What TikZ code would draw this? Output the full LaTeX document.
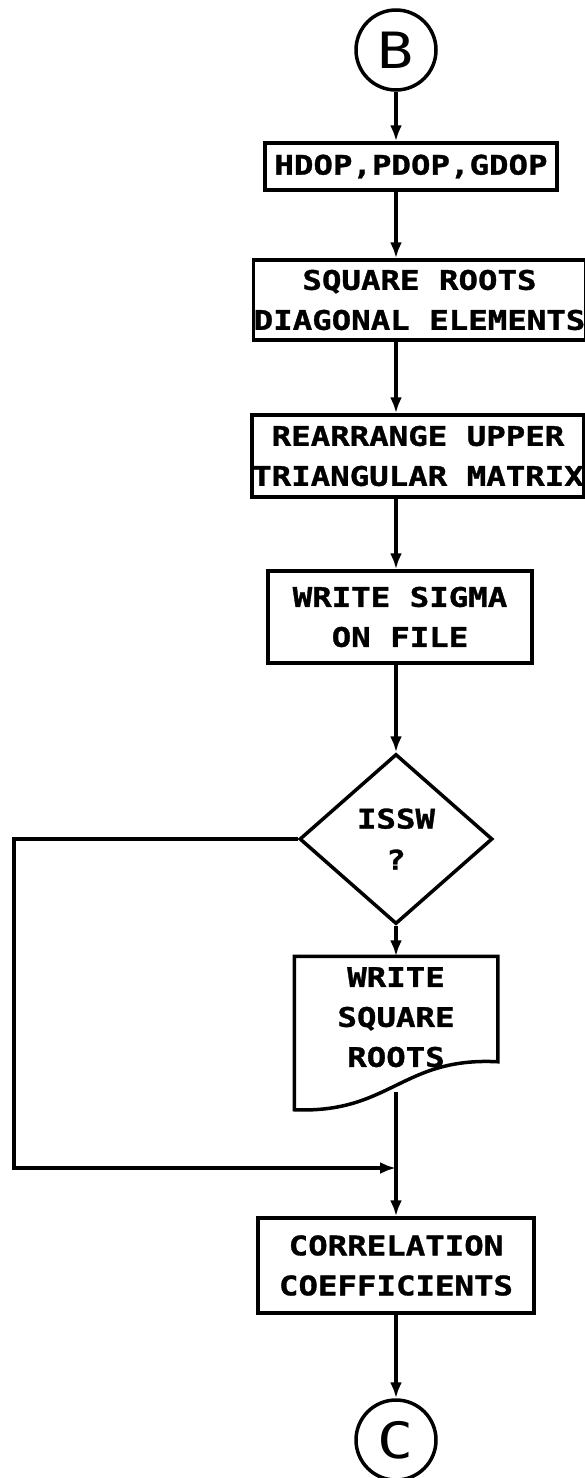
\documentclass[tikz,border=0pt]{standalone}
\usepackage{fontspec}
\newfontfamily\plotfont[FakeStretch=1.2, BoldFeatures={FakeBold=1.2}]{DejaVu Sans Mono}
\usetikzlibrary{arrows.meta,positioning,shapes.geometric,calc}
\tikzset{
  >={Latex[length=16pt,width=12pt]},
  chart/.style={x=1pt, y=-1pt, line width=3.5pt},
  proc/.style ={draw, rectangle, inner sep=0pt, align=center, font=\plotfont\bfseries\fontsize{27}{40}\selectfont},
  conn/.style ={draw, circle, minimum size=80pt, inner sep=0pt, font=\plotfont\fontsize{50}{50}\selectfont},
  dec/.style  ={draw, diamond, minimum width=193pt, minimum height=170pt, inner sep=0pt, align=center, font=\plotfont\bfseries\fontsize{27}{41}\selectfont},
  docu/.style ={rectangle, minimum width=200pt, minimum height=150pt, inner sep=0pt, text depth=32pt, align=center, font=\plotfont\bfseries\fontsize{27}{40}\selectfont}
}
\begin{document}
\begin{tikzpicture}[chart]
\useasboundingbox (0,0) rectangle (585,1478);
\node[conn] (B) at (396,50) {B};
\node[proc, minimum width=292pt, minimum height=47pt] (dop) at (411,166.5) {HDOP,PDOP,GDOP};
\node[proc, minimum width=329pt, minimum height=80pt] (sqr) at (419.5,300) {SQUARE ROOTS\\DIAGONAL ELEMENTS};
\node[proc, minimum width=332pt, minimum height=82pt] (tri) at (418,456) {REARRANGE UPPER\\TRIANGULAR MATRIX};
\node[proc, minimum width=264pt, minimum height=92pt] (sig) at (400,617) {WRITE SIGMA\\ON FILE};
\node[dec] (issw) at (396,839) {ISSW\\?};
\node[docu] (wsq) at (396,1033) {WRITE\\SQUARE\\ROOTS};
\node[proc, minimum width=276pt, minimum height=95pt] (corr) at (396,1265.5) {CORRELATION\\COEFFICIENTS};
\node[conn] (C) at (396,1440) {C};
\coordinate (lft) at (14,839);
\coordinate (join) at (396,1168);

% document outline
\draw (wsq.north west) -- (wsq.north east) -- ([yshift=48pt]wsq.south east)
  .. controls ([xshift=-96pt,yshift=53pt]wsq.south east) and ([xshift=96pt,yshift=-4pt]wsq.south west) .. (wsq.south west) -- cycle;

% main flow
\draw[->] (B) -- (B |- dop.north);
\draw[->] (B |- dop.south) -- (B |- sqr.north);
\draw[->] (B |- sqr.south) -- (B |- tri.north);
\draw[->] (B |- tri.south) -- (B |- sig.north);
\draw[->] (B |- sig.south) -- (issw.north);
\draw[->] (issw.south) -- (wsq.north);
\draw[->] ([yshift=18pt]wsq.south) -- (corr.north);
\draw[->] (corr) -- (C);

% skip branch
\draw[->] (issw.west) -- (lft) |- (join);
\end{tikzpicture}
\end{document}
